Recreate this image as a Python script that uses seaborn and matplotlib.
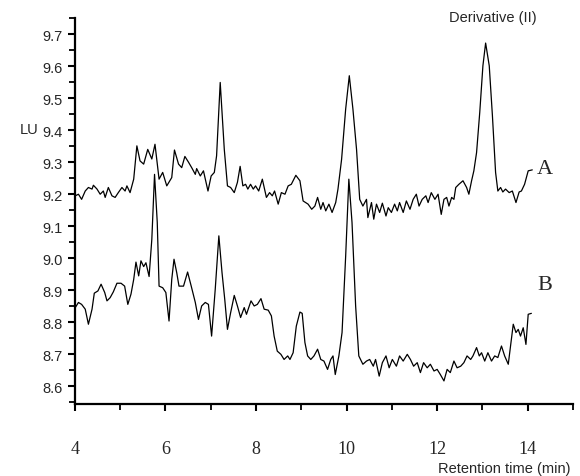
import numpy as np
import pandas as pd
import matplotlib
matplotlib.use("Agg")
import matplotlib.pyplot as plt
import seaborn as sns
from matplotlib.ticker import MultipleLocator

# Trace A (upper chromatogram)
time_a = [4.01, 4.08, 4.15, 4.23, 4.30, 4.38, 4.41, 4.49, 4.56, 4.63, 4.67, 4.74, 4.82, 4.89,
          4.96, 5.04, 5.11, 5.15, 5.22, 5.30, 5.37, 5.44, 5.52, 5.61, 5.70, 5.77, 5.86, 5.94,
          6.03, 6.14, 6.20, 6.29, 6.36, 6.43, 6.51, 6.58, 6.66, 6.69, 6.77, 6.84, 6.94, 7.01,
          7.08, 7.13, 7.21, 7.30, 7.37, 7.44, 7.52, 7.59, 7.65, 7.71, 7.77, 7.82, 7.88, 7.94,
          7.99, 8.06, 8.14, 8.23, 8.30, 8.36, 8.41, 8.49, 8.56, 8.64, 8.71, 8.78, 8.88, 8.97,
          9.04, 9.15, 9.23, 9.30, 9.36, 9.43, 9.48, 9.54, 9.61, 9.68, 9.76, 9.81, 9.89, 9.98,
          10.06, 10.14, 10.22, 10.29, 10.36, 10.44, 10.47, 10.55, 10.60, 10.66, 10.73, 10.79,
          10.87, 10.92, 10.99, 11.06, 11.12, 11.17, 11.25, 11.32, 11.40, 11.47, 11.54, 11.60,
          11.67, 11.75, 11.80, 11.87, 11.95, 12.02, 12.09, 12.15, 12.21, 12.26, 12.32, 12.37,
          12.41, 12.48, 12.57, 12.65, 12.70, 12.76, 12.81, 12.87, 12.94, 13.01, 13.07, 13.15,
          13.22, 13.29, 13.34, 13.40, 13.45, 13.51, 13.59, 13.66, 13.74, 13.81, 13.86, 13.93,
          14.01, 14.10]
signal_a = [9.195, 9.200, 9.184, 9.210, 9.221, 9.216, 9.228, 9.216, 9.200, 9.210, 9.190, 9.221,
            9.195, 9.190, 9.205, 9.221, 9.210, 9.226, 9.205, 9.247, 9.351, 9.304, 9.294, 9.340,
            9.310, 9.356, 9.247, 9.268, 9.226, 9.252, 9.338, 9.294, 9.283, 9.318, 9.300, 9.283,
            9.262, 9.280, 9.257, 9.273, 9.210, 9.257, 9.268, 9.320, 9.549, 9.340, 9.226, 9.221,
            9.205, 9.237, 9.287, 9.226, 9.231, 9.216, 9.231, 9.216, 9.226, 9.210, 9.247, 9.190,
            9.205, 9.195, 9.210, 9.169, 9.205, 9.200, 9.226, 9.231, 9.259, 9.242, 9.179, 9.169,
            9.153, 9.163, 9.190, 9.153, 9.174, 9.148, 9.169, 9.143, 9.174, 9.216, 9.309, 9.466,
            9.570, 9.466, 9.340, 9.184, 9.163, 9.184, 9.127, 9.174, 9.122, 9.169, 9.143, 9.172,
            9.132, 9.158, 9.143, 9.169, 9.148, 9.174, 9.143, 9.179, 9.153, 9.184, 9.200, 9.163,
            9.184, 9.195, 9.174, 9.205, 9.184, 9.200, 9.137, 9.184, 9.190, 9.163, 9.190, 9.184,
            9.221, 9.231, 9.242, 9.221, 9.200, 9.242, 9.273, 9.330, 9.455, 9.601, 9.672, 9.601,
            9.445, 9.268, 9.210, 9.221, 9.207, 9.216, 9.205, 9.210, 9.174, 9.207, 9.210, 9.231,
            9.273, 9.276]

# Trace B (lower chromatogram)
time_b = [4.01, 4.08, 4.15, 4.23, 4.30, 4.38, 4.43, 4.51, 4.58, 4.66, 4.71, 4.78, 4.85, 4.93,
          5.02, 5.10, 5.17, 5.24, 5.30, 5.35, 5.41, 5.46, 5.52, 5.57, 5.64, 5.70, 5.76, 5.82,
          5.86, 5.94, 6.01, 6.08, 6.14, 6.19, 6.25, 6.30, 6.40, 6.49, 6.57, 6.66, 6.73, 6.80,
          6.88, 6.95, 7.02, 7.10, 7.18, 7.25, 7.31, 7.37, 7.44, 7.52, 7.59, 7.66, 7.74, 7.79,
          7.89, 7.96, 8.03, 8.11, 8.18, 8.27, 8.34, 8.40, 8.47, 8.55, 8.62, 8.70, 8.75, 8.82,
          8.89, 8.97, 9.02, 9.08, 9.14, 9.21, 9.28, 9.36, 9.43, 9.50, 9.58, 9.65, 9.70, 9.75,
          9.83, 9.90, 9.98, 10.05, 10.12, 10.20, 10.27, 10.36, 10.44, 10.51, 10.59, 10.64,
          10.72, 10.79, 10.87, 10.94, 11.01, 11.10, 11.17, 11.25, 11.34, 11.41, 11.48, 11.56,
          11.63, 11.70, 11.78, 11.85, 11.93, 12.00, 12.07, 12.15, 12.22, 12.29, 12.37, 12.44,
          12.52, 12.59, 12.66, 12.74, 12.79, 12.87, 12.93, 12.98, 13.05, 13.12, 13.20, 13.27,
          13.34, 13.42, 13.49, 13.57, 13.62, 13.68, 13.74, 13.79, 13.84, 13.90, 13.96, 14.01,
          14.08]
signal_b = [8.846, 8.862, 8.856, 8.841, 8.794, 8.841, 8.891, 8.898, 8.919, 8.893, 8.867, 8.877,
            8.895, 8.922, 8.922, 8.913, 8.856, 8.888, 8.934, 8.988, 8.945, 8.992, 8.974, 8.986,
            8.943, 9.059, 9.262, 9.112, 8.913, 8.908, 8.893, 8.804, 8.934, 8.997, 8.955, 8.913,
            8.913, 8.957, 8.913, 8.862, 8.809, 8.851, 8.862, 8.856, 8.757, 8.903, 9.070, 8.955,
            8.872, 8.778, 8.830, 8.884, 8.851, 8.815, 8.846, 8.825, 8.867, 8.851, 8.856, 8.874,
            8.841, 8.838, 8.820, 8.757, 8.710, 8.700, 8.684, 8.695, 8.684, 8.705, 8.788, 8.832,
            8.828, 8.737, 8.695, 8.684, 8.695, 8.716, 8.684, 8.679, 8.653, 8.684, 8.695, 8.637,
            8.695, 8.768, 9.007, 9.247, 9.112, 8.851, 8.695, 8.669, 8.679, 8.684, 8.663, 8.684,
            8.632, 8.674, 8.695, 8.658, 8.684, 8.663, 8.695, 8.679, 8.700, 8.684, 8.663, 8.674,
            8.643, 8.674, 8.658, 8.669, 8.648, 8.653, 8.637, 8.617, 8.653, 8.643, 8.679, 8.658,
            8.663, 8.674, 8.695, 8.684, 8.695, 8.721, 8.695, 8.705, 8.679, 8.705, 8.679, 8.695,
            8.690, 8.726, 8.695, 8.669, 8.726, 8.794, 8.768, 8.778, 8.757, 8.783, 8.731, 8.825,
            8.828]

x_ticks = [4, 6, 8, 10, 12, 14]
y_ticks = [8.6, 8.7, 8.8, 8.9, 9.0, 9.1, 9.2, 9.3, 9.4, 9.5, 9.6, 9.7]

df_a = pd.DataFrame({"time": time_a, "LU": signal_a})
df_b = pd.DataFrame({"time": time_b, "LU": signal_b})

sns.set_style("ticks")
plt.rcParams["font.family"] = ["Liberation Sans", "DejaVu Sans"]

fig = plt.figure(figsize=(5.8, 4.77), dpi=100)
ax = fig.add_axes([0.129, 0.151, 0.859, 0.809])

# both traces in plain black, as in the scanned figure
sns.lineplot(data=df_a, x="time", y="LU", color="black", linewidth=0.9, estimator=None, ax=ax)
sns.lineplot(data=df_b, x="time", y="LU", color="black", linewidth=0.9, estimator=None, ax=ax)

ax.set_xlim(4, 15)
ax.set_ylim(8.545, 9.75)
ax.set_xticks(x_ticks)
ax.set_yticks(y_ticks)
ax.set_yticklabels([f"{v:.1f}" for v in y_ticks], fontsize=10.5)
ax.set_xticklabels([str(v) for v in x_ticks], fontsize=13, family="Liberation Serif")
ax.xaxis.set_minor_locator(MultipleLocator(1))
ax.yaxis.set_minor_locator(MultipleLocator(0.05))
ax.tick_params(which="major", length=5, width=1.5, color="black")
ax.tick_params(which="minor", length=4, width=1.3, color="black")
ax.tick_params(axis="y", which="major", pad=4)
ax.tick_params(axis="x", which="major", pad=21)
ax.set_xlabel("")
ax.set_ylabel("")
sns.despine(ax=ax)
for side in ["left", "bottom"]:
    ax.spines[side].set_linewidth(1.6)
    ax.spines[side].set_color("black")

fig.text(0.050, 0.727, "LU", fontsize=10.5, ha="center", va="center")
fig.text(0.85, 0.962, "Derivative (II)", fontsize=10.5, ha="center", va="center")
fig.text(0.94, 0.644, "A", fontsize=16, family="Liberation Serif", ha="center", va="center")
fig.text(0.94, 0.402, "B", fontsize=16, family="Liberation Serif", ha="center", va="center")
fig.text(0.869, 0.016, "Retention time (min)", fontsize=10.5, ha="center", va="center")

fig.savefig("out.png", dpi=100)
